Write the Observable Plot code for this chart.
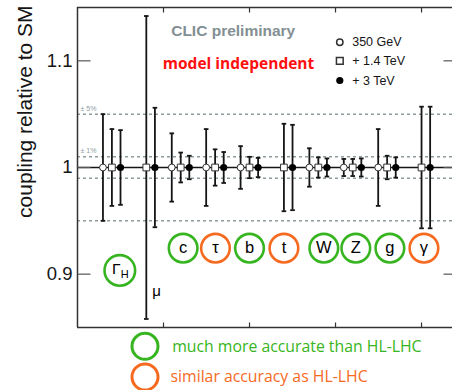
<!DOCTYPE html>
<html><head><meta charset="utf-8">
<script src="https://cdn.jsdelivr.net/npm/d3@7"></script>
<script src="https://cdn.jsdelivr.net/npm/@observablehq/plot@0.6"></script>
<style>
body{margin:0;background:#fff;}
#chart{width:452px;height:390px;overflow:hidden;}
</style></head><body><div id="chart"></div>
<script>
// ---- data ----
const couplings = ["ΓH", "μ", "c", "τ", "b", "t", "W", "Z", "g", "γ"];
const energies = ["350 GeV", "+ 1.4 TeV", "+ 3 TeV"];
const err350  = [5.0, null, 3.2, 3.6, 2.0, null, 1.8, 0.8, 3.6, null];   // % uncertainty
const err1400 = [3.6, 14.2, 1.4, 1.7, 1.0, 4.1, 0.95, 0.8, 1.1, 5.7];
const err3000 = [3.5, 5.6, 1.1, 1.45, 0.9, 4.0, 0.85, 0.85, 0.95, 5.7];
const yTicks = [0.9, 1, 1.1];
const yTickLabels = ["0.9", "1", "1.1"];
const xTicks = [2.5, 5, 7.5, 10];
const bands = [1.05, 1.01, 0.99, 0.95];
const bandLabels = ["± 5%", "± 1%"];
const bandLabelY = [1.05, 1.01];
const circled = ["c", "τ", "b", "t", "W", "Z", "g", "γ"];
const circledX = [3.07, 4.01, 5.0, 6.0, 7.16, 8.09, 9.08, 10.07];
const circledClass = ["much", "similar", "much", "similar", "much", "much", "much", "similar"];
const circledY = 0.9244;
const widthLabel = {x: 1.23, y: 0.9035, cls: "much"};
const muLabel = {text: "μ", x: 2.30, y: 0.884};
const classes = ["much", "similar"];
const classTexts = ["much more accurate than HL-LHC", "similar accuracy as HL-LHC"];
const xDomain = [0, 10.9];
const yDomain = [0.85, 1.15];

// ---- styling ----
const GREEN = "#36b520", ORANGE = "#f56a1f", DASH = "#8d9c9f", INK = "#151515";
const offsets = [-0.26, 0, 0.25];
const errs = [err350, err1400, err3000];
const rows = couplings.flatMap((c, i) => errs.map((arr, k) => ({
  c, energy: energies[k], k, x: i + 1 + offsets[k], err: arr[i]
})).filter(d => d.err != null));
const circledRows = circled.map((t, i) => ({t, x: circledX[i], cls: circledClass[i]}));

const capSym = {draw(c) { c.moveTo(-2.3, 0); c.lineTo(2.3, 0); }};
const tickDown = {draw(c) { c.moveTo(0, 0); c.lineTo(0, 5); }};
const tickUp = {draw(c) { c.moveTo(0, 0); c.lineTo(0, -5); }};
const tickRight = {draw(c) { c.moveTo(0, 0); c.lineTo(13, 0); }};
const tickLeft = {draw(c) { c.moveTo(0, 0); c.lineTo(-9, 0); }};

const chart = Plot.plot({
  width: 452, height: 390,
  marginLeft: 77, marginRight: 0, marginTop: 7, marginBottom: 63,
  style: {fontFamily: "'Liberation Sans', Arial, sans-serif", background: "#fff", overflow: "visible"},
  x: {domain: xDomain, axis: null},
  y: {domain: yDomain, label: null},
  color: {domain: classes, range: [GREEN, ORANGE]},
  marks: [
    Plot.ruleY(bands, {stroke: DASH, strokeWidth: 1.5, strokeDasharray: "3,3"}),
    Plot.text(bandLabels, {x: xDomain[0], y: (d, i) => bandLabelY[i], text: d => d, dx: 3, dy: -3.5,
      textAnchor: "start", lineAnchor: "bottom", fontSize: 7, fill: DASH}),
    Plot.ruleY([1], {stroke: INK, strokeWidth: 1.5}),
    // frame
    Plot.ruleX([xDomain[0]], {stroke: "#333", strokeWidth: 1.5}),
    Plot.ruleY(yDomain, {stroke: "#333", strokeWidth: 1.5}),
    Plot.dot(xTicks, {x: d => d, y: yDomain[1], symbol: tickDown, stroke: "#333", strokeWidth: 1.2}),
    Plot.dot(xTicks, {x: d => d, y: yDomain[0], symbol: tickUp, stroke: "#333", strokeWidth: 1.2}),
    Plot.dot(yTicks, {x: xDomain[0], y: d => d, symbol: tickRight, stroke: "#555", strokeWidth: 1.2}),
    Plot.dot(yTicks, {x: xDomain[1], y: d => d, symbol: tickLeft, stroke: "#555", strokeWidth: 1.2}),
    Plot.axisY(yTicks, {tickSize: 0, tickPadding: 5, fontSize: 18.5, fill: INK, label: null,
      tickFormat: d => yTickLabels[yTicks.indexOf(d)]}),
    Plot.text(["coupling relative to SM"], {frameAnchor: "top-left", rotate: -90, textAnchor: "end",
      lineAnchor: "middle", dx: -52, dy: -2, fontSize: 21, fill: INK}),
    // error bars
    Plot.ruleX(rows, {x: "x", y1: d => 1 - d.err / 100, y2: d => 1 + d.err / 100, stroke: INK, strokeWidth: 1.8}),
    Plot.dot(rows, {x: "x", y: d => 1 + d.err / 100, symbol: capSym, stroke: INK, strokeWidth: 1.8}),
    Plot.dot(rows, {x: "x", y: d => 1 - d.err / 100, symbol: capSym, stroke: INK, strokeWidth: 1.8}),
    // markers
    Plot.dot(rows.filter(d => d.k === 0), {x: "x", y: 1, r: 3.4, fill: "white", stroke: "#333", strokeWidth: 1}),
    Plot.dot(rows.filter(d => d.k === 1), {x: "x", y: 1, r: 3.8, symbol: "square", fill: "white", stroke: "#333", strokeWidth: 1}),
    Plot.dot(rows.filter(d => d.k === 2), {x: "x", y: 1, r: 3.6, fill: "black"}),
    // circled labels
    Plot.dot(circledRows, {x: "x", y: circledY, r: 14.3, stroke: "cls", strokeWidth: 2.6, fill: "none"}),
    Plot.text(circledRows, {x: "x", y: circledY, text: "t", fontSize: 16.5, fill: "black"}),
    Plot.dot([widthLabel], {x: "x", y: "y", r: 15.3, stroke: "cls", strokeWidth: 2.6, fill: "none"}),
    Plot.text(["Γ"], {x: widthLabel.x, y: widthLabel.y, dx: -3.5, dy: -1, fontSize: 15.5, fill: "black"}),
    Plot.text(["H"], {x: widthLabel.x, y: widthLabel.y, dx: 5, dy: 4, fontSize: 11, fill: "black"}),
    Plot.text([muLabel], {x: "x", y: "y", text: "text", fontSize: 15, fill: "black"}),
    // title annotations
    Plot.text(["CLIC preliminary"], {frameAnchor: "top-left", dx: 93.7, dy: 28.7, textAnchor: "start",
      lineAnchor: "bottom", fontSize: 15.5, fontWeight: "bold", fill: "#838f93"}),
    Plot.text(["model independent"], {frameAnchor: "top-left", dx: 85.3, dy: 61.3, textAnchor: "start",
      lineAnchor: "bottom", fontSize: 15.5, fontWeight: "bold", fill: "#ff1010", fontFamily: "'Open Sans', sans-serif"}),
    // energy legend
    Plot.dot([energies[0]], {frameAnchor: "top-right", dx: -112.7, dy: 34.7, r: 3.2, fill: "white", stroke: "#333"}),
    Plot.dot([energies[1]], {frameAnchor: "top-right", dx: -112.7, dy: 53.3, r: 3.8, symbol: "square", fill: "white", stroke: "#333"}),
    Plot.dot([energies[2]], {frameAnchor: "top-right", dx: -112.7, dy: 73, r: 3.6, fill: "black"}),
    ...energies.map((e, i) => Plot.text([e], {frameAnchor: "top-right", dx: -100.3, dy: [34.7, 53.3, 73][i],
      textAnchor: "start", lineAnchor: "middle", fontSize: 12.5, fill: INK})),
    // HL-LHC legend below the frame
    ...classes.map((c, i) => Plot.dot([c], {frameAnchor: "bottom-left", dx: 67.5, dy: [18.8, 49.5][i],
      r: 13, stroke: d => d, strokeWidth: 3, fill: "none"})),
    ...classes.map((c, i) => Plot.text([classTexts[i]], {frameAnchor: "bottom-left", dx: [94.7, 93][i], dy: [24.7, 54.7][i],
      textAnchor: "start", lineAnchor: "bottom", fontSize: 15.8, fill: [GREEN, ORANGE][i], fontFamily: "'Open Sans', sans-serif"}))
  ]
});
chart.style.maxWidth = "none";
document.getElementById("chart").appendChild(chart);
</script></body></html>
